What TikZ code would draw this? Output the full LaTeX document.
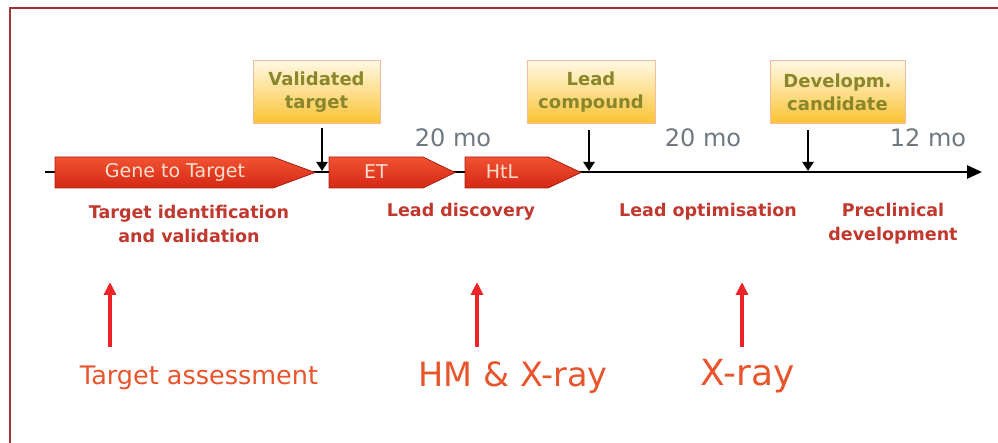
\documentclass[tikz,border=0pt]{standalone}
\usepackage{fontspec}
\setmainfont{DejaVu Sans}
\usetikzlibrary{arrows.meta}

\definecolor{framered}{RGB}{158,52,56}
\definecolor{phasetop}{RGB}{242,82,50}
\definecolor{phasebot}{RGB}{212,40,20}
\definecolor{phaseedge}{RGB}{170,30,20}
\definecolor{phasetext}{RGB}{252,222,206}
\definecolor{boxtop}{RGB}{255,249,226}
\definecolor{boxbot}{RGB}{250,194,50}
\definecolor{boxedge}{RGB}{244,188,160}
\definecolor{olive}{RGB}{138,134,44}
\definecolor{stagered}{RGB}{192,56,46}
\definecolor{toolred}{RGB}{232,84,44}
\definecolor{arrowred}{RGB}{236,36,40}
\definecolor{monthgray}{RGB}{112,120,128}

\tikzset{
  phase/.style={draw=phaseedge, line width=0.8pt, top color=phasetop, bottom color=phasebot},
  phaselabel/.style={text=phasetext, font=\fontsize{19}{22}\selectfont},
  milestone/.style={draw=boxedge, line width=1pt, top color=boxtop, bottom color=boxbot,
    minimum height=63pt, inner sep=0pt, align=center, text=olive,
    font=\bfseries\fontsize{18}{23}\selectfont},
  drop/.style={black, line width=2.5pt, -{Triangle[length=9pt,width=11pt]}},
  axis/.style={black, line width=2.8pt, -{Triangle[length=15pt,width=13pt]}},
  month/.style={text=monthgray, font=\fontsize{24}{28}\selectfont},
  stage/.style={text=stagered, align=center, font=\bfseries\fontsize{17.5}{24}\selectfont},
  tool/.style={arrowred, line width=4pt, -{Triangle[length=13pt,width=12pt]}},
  toollabel/.style={text=toolred}
}

\begin{document}
\begin{tikzpicture}[x=1pt,y=-1pt]
    \useasboundingbox (0,0) rectangle (998,443);
    \fill[white] (0,0) rectangle (998,443);
    \begin{scope}
        \clip (0,0) rectangle (998,443);
        \draw[framered, line width=2.5pt] (10,460) -- (10,8) -- (1010,8);
    \end{scope}

    % time axis
    \coordinate (axisL) at (45,172);
    \coordinate (axisR) at (982,172);
    \draw[axis] (axisL) -- (axisR);

    % phases
    \draw[phase] (55,157) -- (273,157) -- (315,172.5) -- (273,188) -- (55,188) -- cycle;
    \node[phaselabel] (g2t) at (175,172) {Gene to Target};
    \draw[phase] (329,157) -- (423,157) -- (455,172.5) -- (423,188) -- (329,188) -- cycle;
    \node[phaselabel] (et) at (376,172) {ET};
    \draw[phase] (465,157) -- (548,157) -- (581,172.5) -- (548,188) -- (465,188) -- cycle;
    \node[phaselabel] (htl) at (502,172) {HtL};

    % milestones
    \node[milestone, minimum width=127pt] (vt) at (316.5,92.5) {Validated\\target};
    \node[milestone, minimum width=128pt] (lc) at (591,92.5) {Lead\\compound};
    \node[milestone, minimum width=135pt] (dc) at (837.5,92.5) {Developm.\\candidate};
    \coordinate (m1) at (322,171);
    \coordinate (m2) at (589,171);
    \coordinate (m3) at (808,171);
    \draw[drop] (vt.south -| m1) ++(0,4) -- (m1);
    \draw[drop] (lc.south -| m2) ++(0,6) -- (m2);
    \draw[drop] (dc.south -| m3) ++(0,6) -- (m3);

    % durations
    \node[month] (mo1) at (453,138) {20 mo};
    \node[month] (mo2) at (703,138) {20 mo};
    \node[month] (mo3) at (928,138) {12 mo};

    % stages
    \node[stage] (s1) at (189,224) {Target identification\\and validation};
    \node[stage] (s2) at (461,212) {Lead discovery};
    \node[stage] (s3) at (708,212) {Lead optimisation};
    \node[stage] (s4) at (893,224) {Preclinical\\development};

    % structural tools
    \node[toollabel, font=\fontsize{25.5}{30}\selectfont] (ta) at (199,378) {Target assessment};
    \node[toollabel, font=\fontsize{33.5}{38}\selectfont] (hm) at (513,378) {HM \& X-ray};
    \node[toollabel, font=\fontsize{36}{40}\selectfont] (xr) at (748,376) {X-ray};
    \coordinate (a1) at (110,347);
    \coordinate (a2) at (477,347);
    \coordinate (a3) at (742,347);
    \draw[tool] (a1) -- ++(0,-65);
    \draw[tool] (a2) -- ++(0,-65);
    \draw[tool] (a3) -- ++(0,-65);
\end{tikzpicture}
\end{document}
